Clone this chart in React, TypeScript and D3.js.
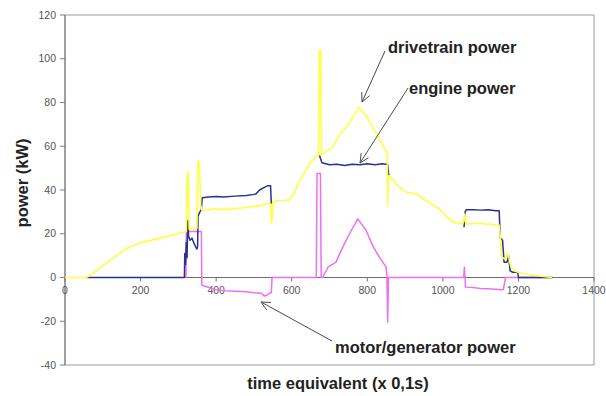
import React from "react";
import * as d3 from "d3";

// ---- data (time equivalent in 0.1 s, power in kW) ----
const driveT = [0, 57, 84, 119, 154, 180, 198, 233, 269, 304, 318, 321, 323, 326, 329, 336, 344, 349, 351, 353, 356, 359, 362, 367, 380, 400, 420, 450, 480, 500, 520, 540, 544, 546, 548, 550, 560, 580, 594, 605, 620, 635, 647, 660, 670, 671, 673, 677, 679, 682, 695, 709, 726, 744, 762, 777, 797, 814, 832, 851, 853, 854, 856, 858, 876, 902, 929, 955, 990, 1026, 1052, 1056, 1058, 1061, 1070, 1090, 1110, 1130, 1149, 1152, 1156, 1165, 1172, 1180, 1190, 1200, 1220, 1250, 1289];
const driveP = [0, 0, 3.2, 7.8, 12.3, 14.6, 15.8, 17.2, 18.7, 20.3, 20.8, 21, 46, 48, 22, 22, 22, 22.5, 50, 53.5, 51, 33, 31, 30.5, 31, 31.5, 31, 31.5, 32, 32.5, 33, 34, 33.5, 25, 26, 34.5, 35, 35.2, 35.5, 38, 44, 48, 52, 54.5, 56, 56, 104, 104, 56, 56.5, 58, 59.6, 65, 68.7, 73.3, 77.9, 74, 68.7, 63.4, 57.3, 56, 33, 46, 46.5, 42.8, 39, 38.3, 35.2, 31.4, 25.3, 24.5, 26, 29, 24.5, 24.5, 24.8, 24.5, 24.3, 24, 18, 9.3, 8.5, 11, 5, 3, 2.4, 1.5, 0.8, 0];

// engine power: null = hidden behind the drivetrain curve
const engineT = [57, 316, 317, 319, 321, 323, 325, 327, 331, 336, 343, 349, 351, 352, 357, 361, 363, 380, 400, 420, 450, 480, 500, 506, 515, 525, 537, 544, 546, 600, 672, 674, 680, 690, 700, 720, 740, 760, 780, 800, 820, 840, 854, 857, 950, 1056, 1059, 1062, 1080, 1100, 1120, 1140, 1149, 1152, 1158, 1162, 1170, 1174, 1178, 1185, 1198, 1200, 1290];
const engineP: (number | null)[] = [0, 0, 11, 6, 16, 9, 26, 19, 17, 18, 15, 13, 14, 28, 30, 31, 36.5, 36.8, 37, 36.8, 37.2, 37.5, 38, 38.3, 40, 41, 42, 42, 33.7, null, 55.5, 55.5, 52.5, 52, 51.5, 51.8, 51.2, 51.8, 51.5, 52, 51.5, 52, 51.7, 46.6, null, 23, 30, 31, 31, 30.8, 31, 30.5, 30.5, 18, 17, 7, 7, 10, 3, 2.4, 2.4, 0, 0];

const motorT = [320, 321, 358, 361, 362, 370, 380, 395, 420, 450, 480, 500, 520, 528, 535, 543, 546, 548, 665, 667, 676, 678, 682, 696, 717, 735, 753, 775, 797, 814, 832, 850, 852, 854, 856, 1055, 1057, 1060, 1080, 1100, 1130, 1155, 1160, 1166, 1290];
const motorP = [0, 21, 21, 21, -3.5, -4, -4.5, -5.5, -6, -6.3, -6.5, -7, -7.2, -8.5, -8, -7, -7, 0, 0, 47.5, 47.5, 0, 0, 4.7, 7, 13.9, 20, 26.8, 21.5, 14.6, 9.3, 4.7, 0, -20.4, 0, 0, 4.7, -4.4, -4.6, -5, -5.3, -5.6, -5.5, 0, 0];

const xTicks = [0, 200, 400, 600, 800, 1000, 1200, 1400];
const yTicks = [-40, -20, 0, 20, 40, 60, 80, 100, 120];

const W = 606;
const H = 396;
const FONT = "'Liberation Sans', Arial, sans-serif";

function arrow(x1: number, y1: number, x2: number, y2: number) {
  const a = Math.atan2(y2 - y1, x2 - x1);
  const L = 10;
  const s = 0.45;
  const p1 = [x2 - L * Math.cos(a - s), y2 - L * Math.sin(a - s)];
  const p2 = [x2 - L * Math.cos(a + s), y2 - L * Math.sin(a + s)];
  return `M${x1},${y1}L${x2},${y2}M${p1[0]},${p1[1]}L${x2},${y2}L${p2[0]},${p2[1]}`;
}

export default function App() {
  const x = d3.scaleLinear().domain([0, 1400]).range([65, 594]);
  const y = d3.scaleLinear().domain([-40, 120]).range([365, 15]);

  const mk = (T: number[], P: (number | null)[]) =>
    d3
      .line<number>()
      .defined((i) => P[i] !== null)
      .x((i) => x(T[i]))
      .y((i) => y(P[i] as number))(d3.range(T.length)) || "";

  const motorPath = mk(motorT, motorP);
  const enginePath = mk(engineT, engineP);
  const drivePath = mk(driveT, driveP);

  const [x0, x1] = x.range();
  const [yb, yt] = y.range();

  return (
    <div style={{ position: "fixed", left: 0, top: 0 }}>
      <svg width={W} height={H} style={{ display: "block", background: "#fff" }}>
        {/* plot frame */}
        <rect x={x0} y={yt} width={x1 - x0} height={yb - yt} fill="#fff" stroke="#9a9a9a" strokeWidth={1} />
        {/* y axis */}
        <line x1={x0} x2={x0} y1={yt} y2={yb} stroke="#808080" strokeWidth={1.2} />
        {yTicks.map((t) => (
          <g key={"y" + t}>
            <line x1={x0 - 5} x2={x0} y1={y(t)} y2={y(t)} stroke="#808080" />
            <text x={x0 - 9} y={y(t)} dy="0.35em" textAnchor="end" fontFamily={FONT} fontSize={10.5} fill="#555">
              {t}
            </text>
          </g>
        ))}
        {/* x axis at zero */}
        <line x1={x0} x2={x1} y1={y(0)} y2={y(0)} stroke="#707070" strokeWidth={1.2} />
        {xTicks.map((t) => (
          <g key={"x" + t}>
            <line x1={x(t)} x2={x(t)} y1={y(0)} y2={y(0) + 4} stroke="#707070" />
            <text x={x(t)} y={y(0) + 16} textAnchor="middle" fontFamily={FONT} fontSize={10.5} fill="#555">
              {t}
            </text>
          </g>
        ))}

        {/* series */}
        <path d={motorPath} fill="none" stroke="#f06ef0" strokeWidth={1.5} strokeLinejoin="round" />
        <path d={enginePath} fill="none" stroke="#26338f" strokeWidth={1.5} strokeLinejoin="round" />
        <path d={drivePath} fill="none" stroke="#ffff4a" strokeWidth={1.7} strokeLinejoin="round" />

        {/* annotations */}
        <g stroke="#4a4a4a" strokeWidth={1} fill="none">
          <path d={arrow(385, 51, 362, 102)} />
          <path d={arrow(408, 88, 360, 163)} />
          <path d={arrow(332, 341, 261, 302)} />
        </g>
        <g fontFamily={FONT} fontWeight="bold" fontSize={16.5} fill="#222">
          <text x={388} y={53}>drivetrain power</text>
          <text x={409} y={94}>engine power</text>
          <text x={335} y={353}>motor/generator power</text>
        </g>

        {/* axis titles */}
        <text x={338} y={389} textAnchor="middle" fontFamily={FONT} fontWeight="bold" fontSize={16.5} fill="#222">
          time equivalent (x 0,1s)
        </text>
        <text
          transform={`translate(28,183) rotate(-90)`}
          textAnchor="middle"
          fontFamily={FONT}
          fontWeight="bold"
          fontSize={16.5}
          fill="#222"
        >
          power (kW)
        </text>
      </svg>
    </div>
  );
}
